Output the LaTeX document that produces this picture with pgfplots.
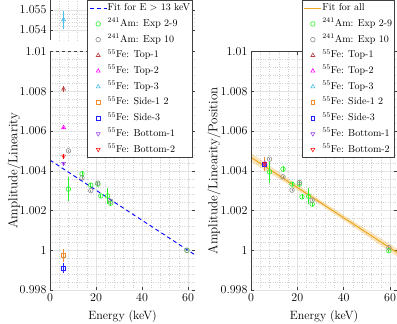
\documentclass[border=0pt]{standalone}
\usepackage{pgfplots}
\pgfplotsset{compat=1.18}
\definecolor{axcol}{gray}{0.25}
\definecolor{amgreen}{rgb}{0.15,0.95,0.15}
\definecolor{amgrey}{gray}{0.55}
\definecolor{topone}{rgb}{0.72,0.25,0.25}
\definecolor{toptwo}{rgb}{1,0,1}
\definecolor{topthree}{rgb}{0.30,0.75,0.93}
\definecolor{sideone}{rgb}{0.95,0.55,0.20}
\definecolor{sidethree}{rgb}{0.12,0.12,1}
\definecolor{botone}{rgb}{0.58,0.20,0.90}
\definecolor{bottwo}{rgb}{1,0,0}
\definecolor{fitblue}{rgb}{0,0,1}
\definecolor{fitorange}{rgb}{0.93,0.66,0.13}
\begin{document}
\begin{tikzpicture}
\pgfplotsset{
 base/.style={scale only axis, anchor=south west, xmin=0, xmax=63,
  xtick={0,20,40,60}, minor x tick num=4, minor y tick num=4,
  grid=both, major grid style={gray!22,line width=0.5pt},
  minor grid style={gray!35,dotted,line width=0.4pt},
  tick align=inside, major tick length=3pt, minor tick length=0pt,
  tick style={axcol,line width=0.5pt}, axis line style={draw=none},
  tick label style={font=\fontsize{12}{12}\selectfont},
  xlabel style={font=\fontsize{12}{12}\selectfont},
  ylabel style={font=\fontsize{13}{13}\selectfont},
  scaled y ticks=false,
  yticklabel style={/pgf/number format/fixed, /pgf/number format/precision=3},
  /pgfplots/error bars/error mark=none},
 ser/.style={only marks, mark size=2.3pt, color=#1, mark options={line width=0.6pt, solid},
  /pgfplots/error bars/y dir=both, /pgfplots/error bars/y explicit,
  /pgfplots/error bars/error bar style={line width=0.9pt, color=#1}},
 leg/.style={legend cell align=left, legend style={draw=axcol, fill=white, line width=0.5pt,
  font=\fontsize{10}{11}\selectfont, row sep=3.7pt, inner sep=2pt,
  nodes={inner sep=0.5pt, text height=8pt, text depth=3pt}}},
}
% ---------- top-left (broken) axis ----------
\begin{axis}[base, at={(50pt,284pt)}, width=145pt, height=40pt,
  ymin=1.0535, ymax=1.0555, ytick={1.054,1.055}, xticklabels={}]
\addplot[ser=topthree, mark=triangle] coordinates {(5.9,1.05452) +- (0,0.00045)};
\draw[axcol] (rel axis cs:0,0) -- (rel axis cs:0,1);
\draw[axcol,dashed] (rel axis cs:0,0) -- (rel axis cs:1,0);
\end{axis}
% ---------- main left axis ----------
\begin{axis}[base, leg, at={(50pt,34pt)}, width=145pt, height=238.3pt,
  ymin=0.998, ymax=1.01, ytick={0.998,1,1.002,1.004,1.006,1.008,1.01},
  xlabel={Energy (keV)}, ylabel={Amplitude/Linearity},
  xlabel style={at={(axis description cs:0.5,-0.113)}, anchor=center},
  ylabel style={at={(axis description cs:-0.248,0.5)}, anchor=center},
  legend style={at={(axis description cs:0.255,1.217)}, anchor=north west}]
\addplot[fitblue, dash pattern=on 4pt off 3pt, line width=0.9pt] coordinates {(0,1.00454) (63,0.99977)};
\addlegendentry{Fit for E $>$ 13 keV}
\addplot[ser=amgreen, mark=o] coordinates {
 (8.0,1.00308) +- (0,0.00060)
 (13.9,1.00385) +- (0,0.00015)
 (17.7,1.00328) +- (0,0.00010)
 (20.8,1.00333) +- (0,0.00010)
 (22.1,1.00274) +- (0,0.00010)
 (25.0,1.00274) +- (0,0.00042)
 (26.4,1.00237) +- (0,0.00012)
 (59.5,1.00000) +- (0,0.00003)};
\addlegendentry{$^{241}$Am: Exp 2-9}
\addplot[ser=amgrey, mark=o] coordinates {
 (8.0,1.00501) +- (0,0.00005)
 (13.9,1.00365) +- (0,0.00006)
 (17.7,1.00300) +- (0,0.00005)
 (20.8,1.00338) +- (0,0.00008)
 (26.4,1.00247) +- (0,0.00005)
 (59.5,1.00000) +- (0,0.00003)};
\addlegendentry{$^{241}$Am: Exp 10}
\addplot[ser=topone, mark=triangle] coordinates {(5.9,1.00812) +- (0,0.00015)};
\addlegendentry{$^{55}$Fe: Top-1}
\addplot[ser=toptwo, mark=triangle] coordinates {(5.9,1.00618) +- (0,0.00005)};
\addlegendentry{$^{55}$Fe: Top-2}
\addlegendimage{only marks, mark size=2.3pt, topthree, mark=triangle, mark options={line width=0.6pt}}
\addlegendentry{$^{55}$Fe: Top-3}
\addplot[ser=sideone, mark=square, mark size=1.9pt] coordinates {(5.9,0.99975) +- (0,0.00033)};
\addlegendentry{$^{55}$Fe: Side-1 2}
\addplot[ser=sidethree, mark=square, mark size=1.9pt] coordinates {(5.9,0.99909) +- (0,0.00025)};
\addlegendentry{$^{55}$Fe: Side-3}
\addplot[ser=botone, mark=triangle, mark options={rotate=180}] coordinates {(5.9,1.00437) +- (0,0.00010)};
\addlegendentry{$^{55}$Fe: Bottom-1}
\addplot[ser=bottwo, mark=triangle, mark options={rotate=180}] coordinates {(5.9,1.00474) +- (0,0.00012)};
\addlegendentry{$^{55}$Fe: Bottom-2}
\draw[axcol] (rel axis cs:1,1) -- (rel axis cs:1,0) -- (rel axis cs:0,0) -- (rel axis cs:0,1);
\draw[axcol,dashed] (rel axis cs:0,1) -- (rel axis cs:1,1);
\end{axis}
% ---------- right axis ----------
\begin{axis}[base, leg, at={(251pt,34pt)}, width=146pt, height=238.3pt,
  ymin=0.998, ymax=1.01, ytick={0.998,1,1.002,1.004,1.006,1.008,1.01},
  xlabel={Energy (keV)}, ylabel={Amplitude/Linearity/Position},
  xlabel style={at={(axis description cs:0.5,-0.113)}, anchor=center},
  ylabel style={at={(axis description cs:-0.253,0.5)}, anchor=center},
  legend style={at={(axis description cs:0.986,1.217)}, anchor=north east}]
\addplot[fill=fitorange, fill opacity=0.3, draw=none, forget plot] coordinates {
 (0,1.00490) (15,1.00369) (30,1.00252) (45,1.00140) (63,1.00009)
 (63,0.99969) (45,1.00112) (30,1.00228) (15,1.00339) (0,1.00446)} \closedcycle;
\addplot[fitorange, line width=1pt] coordinates {(0,1.00468) (63,0.99989)};
\addlegendentry{Fit for all}
\addplot[ser=amgreen, mark=o] coordinates {
 (8.0,1.00395) +- (0,0.00055)
 (13.8,1.00409) +- (0,0.00015)
 (17.7,1.00333) +- (0,0.00010)
 (20.9,1.00333) +- (0,0.00010)
 (22.0,1.00269) +- (0,0.00012)
 (24.9,1.00272) +- (0,0.00040)
 (26.4,1.00232) +- (0,0.00012)
 (59.5,0.99998) +- (0,0.00003)};
\addlegendentry{$^{241}$Am: Exp 2-9}
\addplot[ser=amgrey, mark=o] coordinates {
 (8.0,1.00459) +- (0,0.00006)
 (13.8,1.00370) +- (0,0.00006)
 (17.7,1.00303) +- (0,0.00005)
 (20.9,1.00341) +- (0,0.00010)
 (26.4,1.00252) +- (0,0.00006)
 (59.5,1.00013) +- (0,0.00003)};
\addlegendentry{$^{241}$Am: Exp 10}
\addplot[ser=topone, mark=triangle] coordinates {(5.9,1.00435) +- (0,0.00020)};
\addlegendentry{$^{55}$Fe: Top-1}
\addplot[ser=toptwo, mark=triangle] coordinates {(5.9,1.00438) +- (0,0.00015)};
\addlegendentry{$^{55}$Fe: Top-2}
\addplot[ser=topthree, mark=triangle] coordinates {(5.9,1.00436) +- (0,0.00020)};
\addlegendentry{$^{55}$Fe: Top-3}
\addplot[ser=sideone, mark=square, mark size=1.9pt] coordinates {(5.9,1.00435) +- (0,0.00035)};
\addlegendentry{$^{55}$Fe: Side-1 2}
\addplot[ser=sidethree, mark=square, mark size=1.9pt] coordinates {(5.9,1.00432) +- (0,0.00015)};
\addlegendentry{$^{55}$Fe: Side-3}
\addplot[ser=botone, mark=triangle, mark options={rotate=180}] coordinates {(5.9,1.00430) +- (0,0.00010)};
\addlegendentry{$^{55}$Fe: Bottom-1}
\addplot[ser=bottwo, mark=triangle, mark options={rotate=180}] coordinates {(5.9,1.00437) +- (0,0.00012)};
\addlegendentry{$^{55}$Fe: Bottom-2}
\draw[axcol] (rel axis cs:0,0) rectangle (rel axis cs:1,1);
\end{axis}
\pgfresetboundingbox
\path[use as bounding box] (0pt,0pt) rectangle (397pt,324pt);
\end{tikzpicture}
\end{document}
